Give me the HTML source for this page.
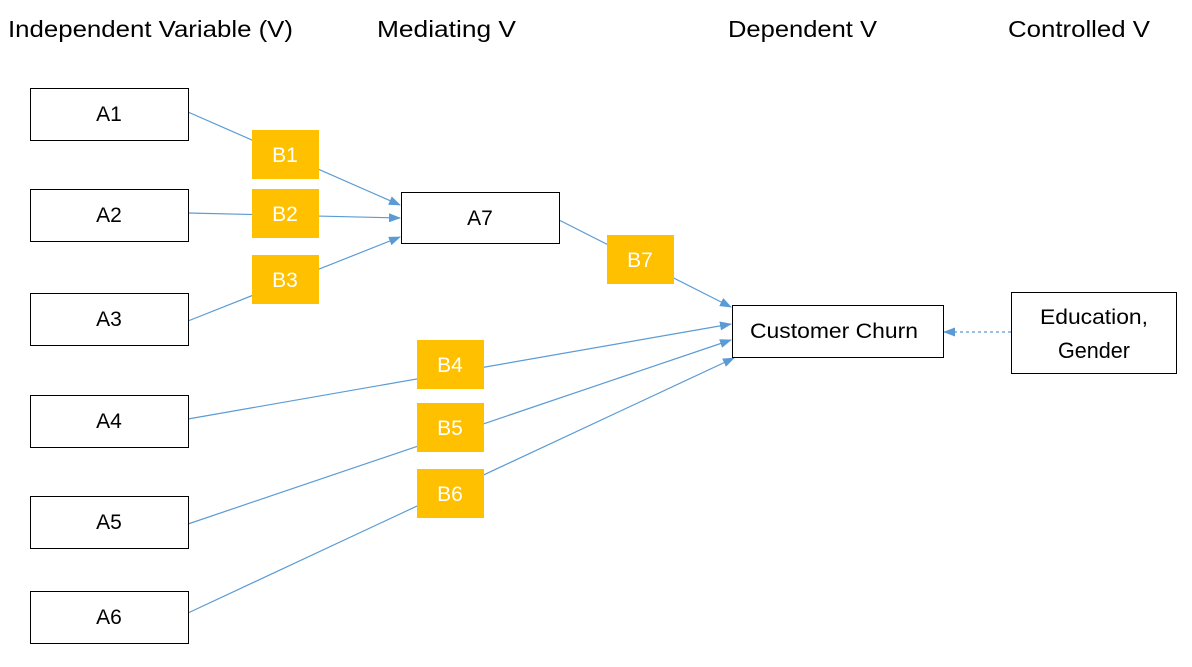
<!DOCTYPE html>
<html><head><meta charset="utf-8"><style>
body{margin:0;background:#fff;width:1192px;height:662px;overflow:hidden;font-family:"Liberation Sans",sans-serif;}
</style></head><body>
<svg width="1192" height="662" xmlns="http://www.w3.org/2000/svg" font-family="Liberation Sans, sans-serif">
<defs><marker id="ar" markerWidth="12" markerHeight="9" refX="11" refY="4.5" orient="auto" markerUnits="userSpaceOnUse"><path d="M0,0 L12,4.5 L0,9 z" fill="#5b9bd5"/></marker></defs>
<g font-size="23" fill="#000">
<text x="8" y="37" textLength="285" lengthAdjust="spacingAndGlyphs">Independent Variable (V)</text>
<text x="377" y="37" textLength="139" lengthAdjust="spacingAndGlyphs">Mediating V</text>
<text x="728" y="37" textLength="149" lengthAdjust="spacingAndGlyphs">Dependent V</text>
<text x="1008" y="37" textLength="142" lengthAdjust="spacingAndGlyphs">Controlled V</text>
</g>
<g stroke="#5b9bd5" stroke-width="1.2" fill="none" marker-end="url(#ar)">
<line x1="188" y1="112" x2="400" y2="205"/>
<line x1="188" y1="213" x2="400" y2="218"/>
<line x1="188" y1="321" x2="400" y2="237"/>
<line x1="559" y1="220" x2="731" y2="307"/>
<line x1="188" y1="419" x2="731" y2="324"/>
<line x1="188" y1="524" x2="731" y2="340"/>
<line x1="188" y1="613" x2="734" y2="358"/>
<line x1="1011" y1="332" x2="944" y2="332" stroke-dasharray="3,3"/>
</g>
<g fill="#fff" stroke="#000" stroke-width="1">
<rect x="30.5" y="88.5" width="158" height="52"/>
<rect x="30.5" y="189.5" width="158" height="52"/>
<rect x="30.5" y="293.5" width="158" height="52"/>
<rect x="30.5" y="395.5" width="158" height="52"/>
<rect x="30.5" y="496.5" width="158" height="52"/>
<rect x="30.5" y="591.5" width="158" height="52"/>
<rect x="401.5" y="192.5" width="158" height="51"/>
<rect x="732.5" y="305.5" width="211" height="52"/>
<rect x="1011.5" y="292.5" width="165" height="81"/>
</g>
<g fill="#ffc000">
<rect x="252" y="130" width="67" height="49"/>
<rect x="252" y="189" width="67" height="49"/>
<rect x="252" y="255" width="67" height="49"/>
<rect x="417" y="340" width="67" height="49"/>
<rect x="417" y="403" width="67" height="49"/>
<rect x="417" y="469" width="67" height="49"/>
<rect x="607" y="235" width="67" height="49"/>
</g>
<g font-size="21" text-anchor="middle" fill="#000">
<text x="109" y="121">A1</text>
<text x="109" y="222">A2</text>
<text x="109" y="326">A3</text>
<text x="109" y="428">A4</text>
<text x="109" y="529">A5</text>
<text x="109" y="624">A6</text>
<text x="480" y="225">A7</text>
<text x="834" y="338" textLength="168" lengthAdjust="spacingAndGlyphs">Customer Churn</text>
<text x="1094" y="324" textLength="108" lengthAdjust="spacingAndGlyphs">Education,</text>
<text x="1094" y="358" font-size="22" textLength="72" lengthAdjust="spacingAndGlyphs">Gender</text>
</g>
<g font-size="21" text-anchor="middle" fill="#fff">
<text x="285" y="162">B1</text>
<text x="285" y="221">B2</text>
<text x="285" y="287">B3</text>
<text x="450" y="372">B4</text>
<text x="450" y="435">B5</text>
<text x="450" y="501">B6</text>
<text x="640" y="267">B7</text>
</g>
</svg>
</body></html>
